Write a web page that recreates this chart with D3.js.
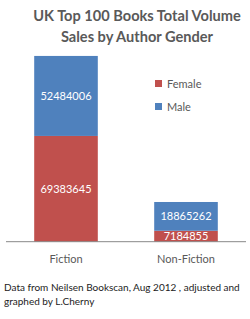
<!DOCTYPE html>
<html><head><meta charset="utf-8">
<script src="https://cdn.jsdelivr.net/npm/d3@7"></script>
<style>body{margin:0;background:#fff}svg{display:block}</style>
</head><body>
<script>
const categories = ["Fiction", "Non-Fiction"];
const seriesNames = ["Female", "Male"];
const femaleValues = [69383645, 7184855];
const maleValues = [52484006, 18865262];
const titleLines = ["UK Top 100 Books Total Volume", "Sales by Author Gender"];
const footLines = ["Data from Neilsen Bookscan, Aug 2012 , adjusted and", "graphed by L.Cherny"];
const colors = ["#C0504D", "#4F81BD"];

const W = 250, H = 319;
const font = "Lato, 'Open Sans', sans-serif";
const svg = d3.select("body").append("svg").attr("width", W).attr("height", H);

const data = categories.map((c, i) => ({cat: c, Female: femaleValues[i], Male: maleValues[i]}));
const stack = d3.stack().keys(seriesNames)(data);

const x = d3.scaleBand().domain(categories).range([6, 246]).paddingInner(0.47).paddingOuter(0.235);
const y = d3.scaleLinear().domain([0, 140000000]).range([241.7, 28.3]);

svg.append("g").selectAll("text").data(titleLines).join("text")
  .attr("x", 137).attr("y", (d, i) => 21 + i * 20.5)
  .attr("text-anchor", "middle").attr("font-family", font).attr("font-weight", "bold")
  .attr("font-size", 14.6).attr("fill", "#595959").text(d => d);

const layers = svg.append("g").selectAll("g").data(stack).join("g")
  .attr("fill", (d, i) => colors[i]);
layers.selectAll("rect").data(d => d).join("rect")
  .attr("x", d => x(d.data.cat)).attr("width", x.bandwidth())
  .attr("y", d => y(d[1])).attr("height", d => y(d[0]) - y(d[1]));

svg.append("g").selectAll("g").data(stack).join("g").selectAll("text").data(d => d).join("text")
  .attr("x", d => x(d.data.cat) + x.bandwidth() / 2)
  .attr("y", d => (y(d[0]) + y(d[1])) / 2 + 4)
  .attr("text-anchor", "middle").attr("font-family", font).attr("font-size", 11)
  .attr("fill", "#fff").text(d => d[1] - d[0]);

const xAxis = svg.append("g").attr("transform", `translate(0,${y(0)})`)
  .call(d3.axisBottom(x).tickSize(0).tickPadding(14));
xAxis.select(".domain").attr("stroke", "#888").attr("d", "M6,0H246");
xAxis.selectAll("text").attr("font-family", font).attr("font-size", 11).attr("fill", "#595959");

const leg = svg.append("g").selectAll("g").data(seriesNames).join("g")
  .attr("transform", (d, i) => `translate(155,${80 + i * 23})`);
leg.append("rect").attr("width", 7).attr("height", 7).attr("fill", (d, i) => colors[i]);
leg.append("text").attr("x", 12).attr("y", 7.5).attr("font-family", font).attr("font-size", 11)
  .attr("fill", "#595959").text(d => d);

svg.append("g").selectAll("text").data(footLines).join("text")
  .attr("x", 4).attr("y", (d, i) => 291 + i * 14)
  .attr("font-family", font).attr("font-size", 10).attr("fill", "#222").text(d => d);
</script>
</body></html>
